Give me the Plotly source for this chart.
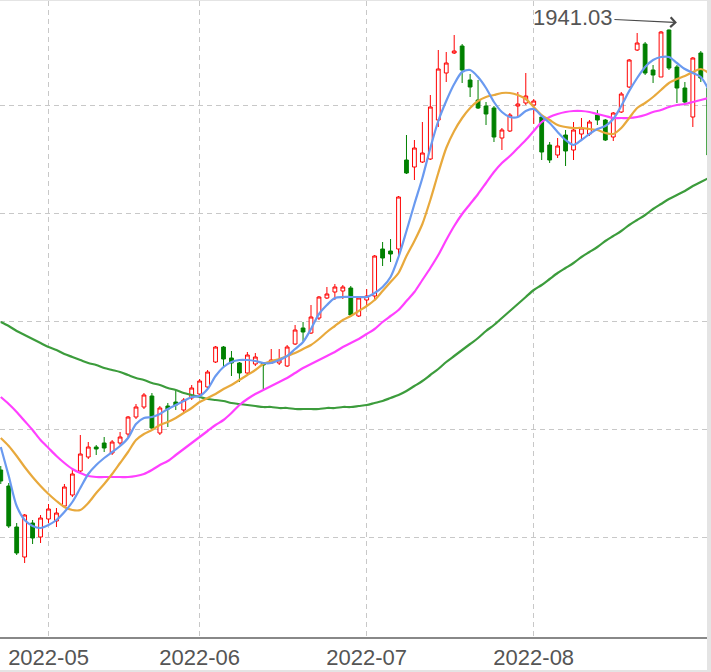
import plotly.graph_objects as go

dates = [
    "2022-04-22", "2022-04-25", "2022-04-26", "2022-04-27", "2022-04-28", "2022-04-29",
    "2022-05-05", "2022-05-06", "2022-05-09", "2022-05-10", "2022-05-11", "2022-05-12", "2022-05-13",
    "2022-05-16", "2022-05-17", "2022-05-18", "2022-05-19", "2022-05-20",
    "2022-05-23", "2022-05-24", "2022-05-25", "2022-05-26", "2022-05-27", "2022-05-30", "2022-05-31",
    "2022-06-01", "2022-06-02", "2022-06-06", "2022-06-07", "2022-06-08", "2022-06-09", "2022-06-10",
    "2022-06-13", "2022-06-14", "2022-06-15", "2022-06-16", "2022-06-17",
    "2022-06-20", "2022-06-21", "2022-06-22", "2022-06-23", "2022-06-24",
    "2022-06-27", "2022-06-28", "2022-06-29", "2022-06-30",
    "2022-07-01", "2022-07-04", "2022-07-05", "2022-07-06", "2022-07-07", "2022-07-08",
    "2022-07-11", "2022-07-12", "2022-07-13", "2022-07-14", "2022-07-15",
    "2022-07-18", "2022-07-19", "2022-07-20", "2022-07-21", "2022-07-22",
    "2022-07-25", "2022-07-26", "2022-07-27", "2022-07-28", "2022-07-29",
    "2022-08-01", "2022-08-02", "2022-08-03", "2022-08-04", "2022-08-05",
    "2022-08-08", "2022-08-09", "2022-08-10", "2022-08-11", "2022-08-12",
    "2022-08-15", "2022-08-16", "2022-08-17", "2022-08-18", "2022-08-19",
    "2022-08-22", "2022-08-23", "2022-08-24", "2022-08-25", "2022-08-26",
    "2022-08-29", "2022-08-30", "2022-08-31",
]

open_ = [1060, 1028, 946, 886, 954, 926, 962, 958, 988, 1010,
         1058, 1086, 1106, 1114, 1094, 1114, 1132, 1166, 1186, 1208,
         1134, 1188, 1196, 1180, 1204, 1212, 1226, 1276, 1306, 1284,
         1274, 1254, 1272, 1274, 1274, 1274, 1268, 1312, 1344, 1334,
         1364, 1404, 1416, 1418, 1424, 1368, 1400, 1408, 1502, 1498,
         1502, 1680, 1666, 1676, 1682, 1760, 1854, 1894, 1908, 1840,
         1800, 1788, 1784, 1724, 1738, 1788, 1794, 1790, 1766, 1710,
         1690, 1730, 1700, 1732, 1732, 1770, 1760, 1726, 1776, 1826,
         1900, 1912, 1860, 1846, 1940, 1866, 1824, 1766, 1894, 1824]
high = [1068, 1034, 954, 972, 960, 970, 992, 984, 1032, 1060,
        1130, 1116, 1110, 1126, 1120, 1136, 1168, 1192, 1214, 1214,
        1188, 1194, 1218, 1204, 1230, 1242, 1260, 1308, 1308, 1298,
        1276, 1296, 1294, 1276, 1302, 1302, 1310, 1350, 1356, 1390,
        1408, 1426, 1432, 1430, 1428, 1408, 1422, 1490, 1516, 1522,
        1608, 1730, 1720, 1756, 1810, 1900, 1896, 1930, 1912, 1852,
        1840, 1796, 1788, 1744, 1774, 1816, 1854, 1802, 1770, 1716,
        1724, 1740, 1756, 1764, 1760, 1780, 1762, 1776, 1816, 1882,
        1934, 1916, 1870, 1938, 1941.03, 1870, 1836, 1886, 1898, 1830]
low = [1032, 944, 890, 874, 912, 914, 954, 946, 986, 1006,
       1056, 1082, 1090, 1096, 1090, 1110, 1126, 1162, 1182, 1140,
       1130, 1146, 1180, 1176, 1200, 1208, 1224, 1274, 1264, 1248,
       1236, 1250, 1268, 1222, 1272, 1270, 1266, 1310, 1318, 1332,
       1360, 1402, 1400, 1402, 1366, 1366, 1388, 1398, 1468, 1476,
       1488, 1652, 1640, 1674, 1680, 1746, 1836, 1892, 1834, 1806,
       1782, 1750, 1716, 1700, 1736, 1768, 1790, 1752, 1680, 1674,
       1684, 1668, 1680, 1720, 1728, 1750, 1718, 1718, 1774, 1824,
       1898, 1850, 1834, 1846, 1860, 1794, 1792, 1746, 1836, 1686]
close = [1038, 948, 894, 970, 924, 964, 982, 974, 1026, 1052,
         1092, 1106, 1102, 1104, 1116, 1126, 1166, 1186, 1210, 1144,
         1184, 1182, 1190, 1200, 1224, 1238, 1256, 1306, 1282, 1274,
         1254, 1290, 1286, 1270, 1280, 1280, 1306, 1340, 1336, 1366,
         1406, 1412, 1426, 1426, 1370, 1404, 1408, 1488, 1484, 1492,
         1606, 1654, 1704, 1694, 1786, 1862, 1874, 1898, 1860, 1826,
         1784, 1772, 1726, 1740, 1770, 1792, 1808, 1798, 1696, 1680,
         1708, 1698, 1740, 1744, 1756, 1760, 1720, 1774, 1812, 1880,
         1914, 1854, 1850, 1936, 1864, 1824, 1796, 1884, 1844, 1690]

ma5 = [1106, 1048, 988, 960, 948, 944, 950, 960, 976, 996,
       1024, 1052, 1070, 1084, 1096, 1108, 1124, 1152, 1164, 1166,
       1172, 1182, 1190, 1198, 1206, 1208, 1222, 1248, 1266, 1276,
       1280, 1280, 1278, 1274, 1274, 1280, 1288, 1302, 1316, 1342,
       1372, 1390, 1404, 1406, 1406, 1406, 1406, 1414, 1426, 1446,
       1486, 1538, 1592, 1644, 1704, 1758, 1798, 1832, 1856, 1860,
       1846, 1824, 1796, 1776, 1766, 1766, 1778, 1782, 1768, 1754,
       1736, 1720, 1710, 1720, 1732, 1742, 1748, 1762, 1788, 1818,
       1844, 1866, 1880, 1886, 1886, 1874, 1862, 1854, 1846, 1820]
ma10 = [1124, 1108, 1088, 1066, 1046, 1028, 1012, 998, 986, 980,
        980, 994, 1014, 1032, 1052, 1074, 1096, 1120, 1132, 1140,
        1150, 1156, 1164, 1174, 1184, 1196, 1204, 1212, 1222, 1230,
        1240, 1250, 1260, 1272, 1278, 1282, 1288, 1294, 1302, 1310,
        1322, 1336, 1348, 1360, 1368, 1378, 1388, 1400, 1418, 1436,
        1454, 1488, 1518, 1552, 1600, 1654, 1704, 1738, 1764, 1784,
        1798, 1806, 1810, 1814, 1814, 1810, 1802, 1786, 1770, 1760,
        1750, 1746, 1744, 1744, 1742, 1740, 1734, 1732, 1744, 1764,
        1784, 1794, 1806, 1820, 1834, 1842, 1848, 1856, 1862, 1854]
ma20 = [1206, 1192, 1176, 1158, 1140, 1120, 1104, 1088, 1074, 1062,
        1054, 1048, 1046, 1046, 1046, 1046, 1046, 1048, 1052, 1060,
        1070, 1078, 1090, 1102, 1114, 1126, 1138, 1150, 1160, 1174,
        1190, 1202, 1212, 1220, 1228, 1236, 1244, 1254, 1264, 1272,
        1280, 1288, 1296, 1306, 1314, 1322, 1332, 1342, 1356, 1368,
        1380, 1398, 1416, 1440, 1464, 1490, 1520, 1548, 1572, 1592,
        1612, 1634, 1656, 1674, 1688, 1704, 1720, 1738, 1756, 1766,
        1772, 1776, 1778, 1778, 1776, 1772, 1768, 1764, 1764, 1764,
        1766, 1770, 1776, 1780, 1786, 1790, 1792, 1796, 1800, 1804]
ma60 = [1356, 1348, 1338, 1330, 1322, 1314, 1306, 1300, 1292, 1286,
        1280, 1274, 1270, 1264, 1260, 1256, 1250, 1244, 1240, 1234,
        1230, 1224, 1220, 1214, 1210, 1206, 1202, 1200, 1198, 1194,
        1192, 1190, 1188, 1186, 1186, 1184, 1184, 1182, 1182, 1182,
        1182, 1184, 1184, 1186, 1186, 1188, 1190, 1194, 1198, 1204,
        1210, 1218, 1228, 1238, 1250, 1262, 1276, 1288, 1300, 1312,
        1324, 1338, 1350, 1364, 1378, 1392, 1406, 1420, 1430, 1442,
        1454, 1464, 1474, 1486, 1496, 1506, 1518, 1528, 1538, 1550,
        1560, 1570, 1582, 1592, 1602, 1610, 1618, 1628, 1636, 1644]

month_ticks = ["2022-05-05", "2022-06-01", "2022-07-01", "2022-08-01"]
month_labels = ["2022-05", "2022-06", "2022-07", "2022-08"]

peak_date = "2022-08-25"
peak_value = 1941.03

fig = go.Figure()
fig.add_trace(go.Candlestick(
    x=dates, open=open_, high=high, low=low, close=close,
    increasing=dict(line=dict(color="#ff0000", width=1), fillcolor="#ffffff"),
    decreasing=dict(line=dict(color="#008000", width=1), fillcolor="#008000"),
    whiskerwidth=0, showlegend=False, hoverinfo="skip",
))
for vals, col in [(ma60, "#3c9c3c"), (ma20, "#ff40ff"), (ma10, "#e8a93c"), (ma5, "#6a9af0")]:
    fig.add_trace(go.Scatter(
        x=dates, y=vals, mode="lines",
        line=dict(color=col, width=2.2, shape="spline", smoothing=0.8),
        showlegend=False, hoverinfo="skip",
    ))

fig.add_annotation(
    x=peak_date, y=peak_value, text=f"{peak_value:.2f}",
    showarrow=True, arrowhead=4, arrowsize=1.6, arrowwidth=1.2, arrowcolor="#4a4a4a",
    ax=-104, ay=-5, yshift=7,
    font=dict(family="Liberation Sans, Arial, sans-serif", size=22, color="#555555"),
)

band = "#e4e4e4"
# grey frame bands around the white chart area (right, bottom, top)
fig.add_shape(type="rect", xref="paper", yref="paper", x0=1, x1=1.02, y0=-0.1, y1=1.1,
              fillcolor=band, line=dict(width=0), layer="above")
fig.add_shape(type="rect", xref="paper", yref="paper", x0=-0.01, x1=1.02, y0=-0.1, y1=-33 / 636,
              fillcolor=band, line=dict(width=0), layer="above")
fig.add_shape(type="rect", xref="paper", yref="paper", x0=-0.01, x1=1.02, y0=1, y1=1.01,
              fillcolor=band, line=dict(width=0), layer="above")

fig.update_layout(
    width=711, height=672,
    margin=dict(l=0, r=4, t=1, b=35),
    paper_bgcolor="white", plot_bgcolor="white",
    boxgap=0.32,
    xaxis=dict(
        type="category", range=[-0.097, 88.78], rangeslider=dict(visible=False),
        tickmode="array", tickvals=month_ticks, ticktext=month_labels,
        showgrid=True, gridcolor="#c8c8c8", gridwidth=1, griddash="5px,4px",
        showline=True, linecolor="#888888", linewidth=2, ticks="",
        tickfont=dict(family="Liberation Sans, Arial, sans-serif", size=22, color="#555555"),
        fixedrange=True,
    ),
    yaxis=dict(
        range=[726, 1998], tick0=925, dtick=216, showticklabels=False,
        showgrid=True, gridcolor="#c8c8c8", gridwidth=1, griddash="5px,4px",
        zeroline=False, showline=False, ticks="", fixedrange=True,
    ),
)

fig.write_html("out.html", config={"displayModeBar": False},
               post_script="document.body.style.margin='0';document.body.style.padding='0';")
